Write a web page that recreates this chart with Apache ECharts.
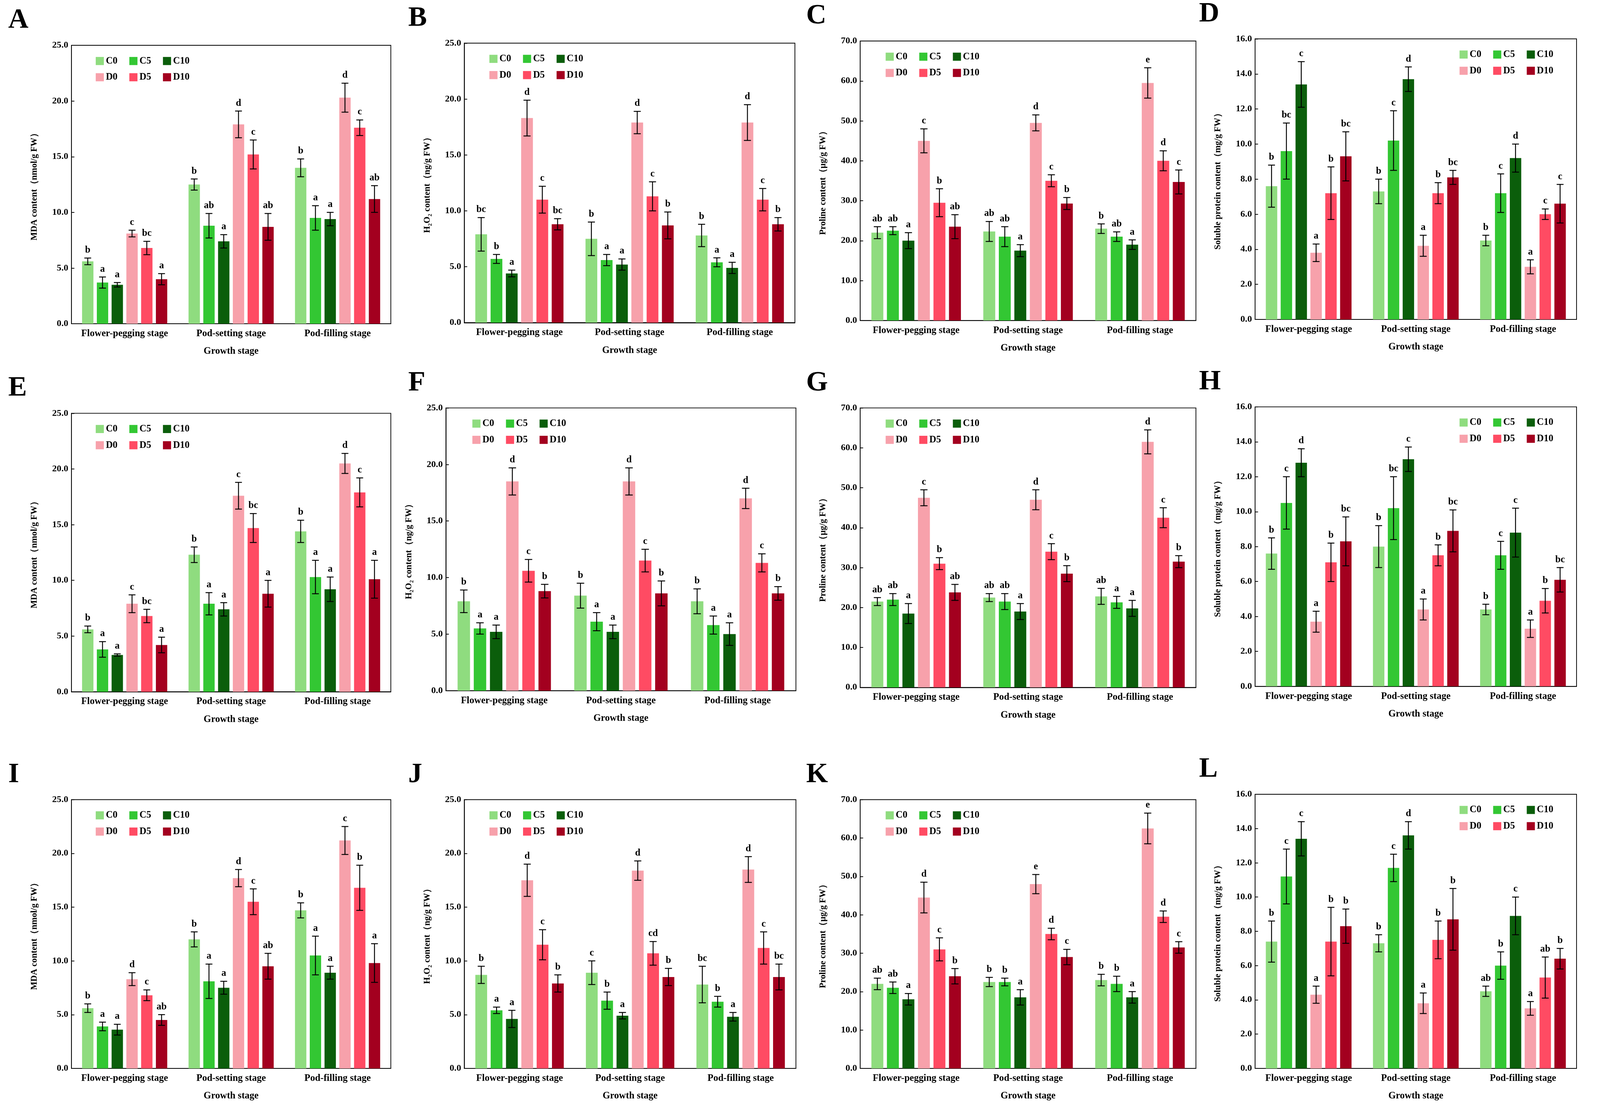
<!DOCTYPE html>
<html>
<head>
<meta charset="utf-8">
<script src="https://cdn.jsdelivr.net/npm/echarts@6/dist/echarts.min.js"></script>
<style>html,body{margin:0;padding:0;background:#fff;overflow:hidden}#c{width:100vw;height:100vh}</style>
</head>
<body>
<div id="c"></div>
<script>
var categories = ['Flower-pegging stage', 'Pod-setting stage', 'Pod-filling stage'];
var seriesNames = ['C0', 'C5', 'C10', 'D0', 'D5', 'D10'];
var colors = ['#8fdc7f', '#33c733', '#0b5e0b', '#f7a1ab', '#ff4b63', '#a3001f'];

// rows: C0, C5, C10, D0, D5, D10 ; columns: the three stages
var aMean = [[5.6,12.5,14.0],[3.7,8.8,9.5],[3.5,7.4,9.4],[8.1,17.9,20.3],[6.8,15.2,17.6],[4.0,8.7,11.2]];
var aErr  = [[0.3,0.5,0.8],[0.5,1.1,1.1],[0.2,0.6,0.6],[0.3,1.2,1.3],[0.6,1.3,0.7],[0.5,1.2,1.2]];
var aSig  = [['b','b','b'],['a','ab','a'],['a','a','a'],['c','d','d'],['bc','c','c'],['a','ab','ab']];

var bMean = [[7.9,7.5,7.8],[5.7,5.6,5.4],[4.4,5.2,4.9],[18.3,17.9,17.9],[11.0,11.3,11.0],[8.8,8.7,8.8]];
var bErr  = [[1.5,1.5,1.0],[0.4,0.5,0.4],[0.3,0.5,0.5],[1.6,1.0,1.6],[1.2,1.3,1.0],[0.5,1.2,0.6]];
var bSig  = [['bc','b','b'],['b','a','a'],['a','a','a'],['d','d','d'],['c','c','c'],['bc','b','b']];

var cMean = [[22,22.3,23],[22.5,21,21],[20,17.5,19],[45,49.5,59.5],[29.5,35,40],[23.5,29.3,34.7]];
var cErr  = [[1.5,2.5,1.2],[1,2.5,1.2],[2,1.5,1.2],[3,2,3.8],[3.5,1.5,2.5],[3,1.5,3]];
var cSig  = [['ab','ab','b'],['ab','ab','ab'],['a','a','a'],['c','d','e'],['b','c','d'],['ab','b','c']];

var dMean = [[7.6,7.3,4.5],[9.6,10.2,7.2],[13.4,13.7,9.2],[3.8,4.2,3.0],[7.2,7.2,6.0],[9.3,8.1,6.6]];
var dErr  = [[1.2,0.7,0.3],[1.6,1.7,1.1],[1.3,0.7,0.8],[0.5,0.6,0.4],[1.5,0.6,0.3],[1.4,0.4,1.1]];
var dSig  = [['b','b','b'],['bc','c','c'],['c','d','d'],['a','a','a'],['b','b','c'],['bc','bc','c']];

var eMean = [[5.6,12.3,14.4],[3.8,7.9,10.3],[3.3,7.4,9.2],[7.9,17.6,20.5],[6.8,14.7,17.9],[4.2,8.8,10.1]];
var eErr  = [[0.3,0.7,1.0],[0.7,1.0,1.5],[0.1,0.6,1.1],[0.8,1.2,0.9],[0.6,1.3,1.3],[0.7,1.2,1.7]];
var eSig  = [['b','b','b'],['a','a','a'],['a','a','a'],['c','c','d'],['bc','bc','c'],['a','a','a']];

var fMean = [[7.9,8.4,7.9],[5.5,6.1,5.8],[5.2,5.2,5.0],[18.5,18.5,17.0],[10.6,11.5,11.3],[8.8,8.6,8.6]];
var fErr  = [[1.0,1.1,1.1],[0.5,0.8,0.8],[0.6,0.6,1.0],[1.2,1.2,0.9],[1.0,1.0,0.8],[0.6,1.1,0.6]];
var fSig  = [['b','b','b'],['a','a','a'],['a','a','a'],['d','d','d'],['c','c','c'],['b','b','b']];

var gMean = [[21.5,22.5,22.8],[22,21.5,21.3],[18.5,19,19.8],[47.5,47,61.5],[31,34,42.5],[23.8,28.5,31.5]];
var gErr  = [[1,1,2],[1.5,2,1.5],[2.5,2,2],[2,2.5,3],[1.5,2,2.5],[2,2,1.5]];
var gSig  = [['ab','ab','ab'],['ab','ab','a'],['a','a','a'],['c','d','d'],['b','c','c'],['ab','b','b']];

var hMean = [[7.6,8.0,4.4],[10.5,10.2,7.5],[12.8,13.0,8.8],[3.7,4.4,3.3],[7.1,7.5,4.9],[8.3,8.9,6.1]];
var hErr  = [[0.9,1.2,0.3],[1.5,1.8,0.8],[0.8,0.7,1.4],[0.6,0.6,0.5],[1.1,0.6,0.7],[1.4,1.2,0.7]];
var hSig  = [['b','b','b'],['c','bc','c'],['d','c','c'],['a','a','a'],['b','b','b'],['bc','bc','bc']];

var iMean = [[5.6,12.0,14.7],[3.9,8.1,10.5],[3.6,7.5,8.9],[8.3,17.7,21.2],[6.8,15.5,16.8],[4.5,9.5,9.8]];
var iErr  = [[0.4,0.7,0.7],[0.4,1.6,1.8],[0.5,0.6,0.6],[0.6,0.8,1.3],[0.5,1.2,2.1],[0.5,1.2,1.8]];
var iSig  = [['b','b','b'],['a','a','a'],['a','a','a'],['d','d','c'],['c','c','b'],['ab','ab','a']];

var jMean = [[8.7,8.9,7.8],[5.4,6.3,6.2],[4.6,4.9,4.8],[17.5,18.4,18.5],[11.5,10.7,11.2],[7.9,8.5,8.5]];
var jErr  = [[0.8,1.1,1.7],[0.3,0.8,0.5],[0.8,0.3,0.4],[1.5,0.9,1.2],[1.4,1.1,1.5],[0.8,0.8,1.2]];
var jSig  = [['b','c','bc'],['a','b','b'],['a','a','a'],['d','d','d'],['c','cd','c'],['b','b','bc']];

var kMean = [[22,22.5,23],[21,22.5,22],[18,18.5,18.5],[44.5,48,62.5],[31,35,39.5],[24,29,31.5]];
var kErr  = [[1.5,1.2,1.5],[1.5,1,2],[1.5,2,1.5],[4,2.5,4],[3,1.5,1.5],[2,2,1.5]];
var kSig  = [['ab','b','b'],['ab','b','b'],['a','a','a'],['d','e','e'],['c','d','d'],['b','c','c']];

var lMean = [[7.4,7.3,4.5],[11.2,11.7,6.0],[13.4,13.6,8.9],[4.3,3.8,3.5],[7.4,7.5,5.3],[8.3,8.7,6.4]];
var lErr  = [[1.2,0.5,0.3],[1.6,0.8,0.8],[1.0,0.8,1.1],[0.5,0.6,0.4],[2.0,1.1,1.2],[1.0,1.8,0.6]];
var lSig  = [['b','b','ab'],['c','c','b'],['c','d','c'],['a','a','a'],['b','b','ab'],['b','b','b']];

var yNames = {
  mda: 'MDA content（nmol/g FW）',
  h2o2: 'H₂O₂ content（ng/g FW）',
  pro: 'Proline content（μg/g FW）',
  sp: 'Soluble protein content（mg/g FW）'
};
var yScale = { mda: [25, 5], h2o2: [25, 5], pro: [70, 10], sp: [16, 2] };

// layout in reference display units (1568 x 1036), scaled to the real window
var W = window.innerWidth, H = window.innerHeight;
var KX = W / 1568, KY = H / 1036;
var S = W / 4335; // font / stroke scale
var panels = [
  {tag:'A', kind:'mda',  m:aMean, e:aErr, s:aSig, box:[70,42,383,300],   leg:'L'},
  {tag:'B', kind:'h2o2', m:bMean, e:bErr, s:bSig, box:[455,40,779,299],  leg:'L'},
  {tag:'C', kind:'pro',  m:cMean, e:cErr, s:cSig, box:[843,38,1172,297], leg:'L'},
  {tag:'D', kind:'sp',   m:dMean, e:dErr, s:dSig, box:[1230,36,1545,296],leg:'R'},
  {tag:'E', kind:'mda',  m:eMean, e:eErr, s:eSig, box:[70,383,383,641],  leg:'L'},
  {tag:'F', kind:'h2o2', m:fMean, e:fErr, s:fSig, box:[437,378,780,640], leg:'L'},
  {tag:'G', kind:'pro',  m:gMean, e:gErr, s:gSig, box:[843,378,1172,637],leg:'L'},
  {tag:'H', kind:'sp',   m:hMean, e:hErr, s:hSig, box:[1230,377,1545,636],leg:'R'},
  {tag:'I', kind:'mda',  m:iMean, e:iErr, s:iSig, box:[70,741,383,990],  leg:'L'},
  {tag:'J', kind:'h2o2', m:jMean, e:jErr, s:jSig, box:[455,741,780,990], leg:'L'},
  {tag:'K', kind:'pro',  m:kMean, e:kErr, s:kSig, box:[843,741,1172,990],leg:'L'},
  {tag:'L', kind:'sp',   m:lMean, e:lErr, s:lSig, box:[1230,736,1545,990],leg:'R'}
];
var letterX = {A:8,B:400,C:790,D:1175,E:8,F:400,G:790,H:1175,I:8,J:400,K:790,L:1175};

var FONT = 'Liberation Serif';
var grids = [], xAxes = [], yAxes = [], series = [], legends = [], graphics = [];

panels.forEach(function (p, pi) {
  var b = p.box;
  var left = b[0] * KX, top = b[1] * KY, w = (b[2] - b[0]) * KX, h = (b[3] - b[1]) * KY;
  grids.push({left: left, top: top, width: w, height: h, show: true,
    borderColor: '#000', borderWidth: 2 * S, backgroundColor: 'transparent'});
  xAxes.push({type: 'category', gridIndex: pi, data: categories,
    name: 'Growth stage', nameLocation: 'middle', nameGap: 62 * S,
    nameTextStyle: {fontFamily: FONT, fontWeight: 'bold', fontSize: 26 * S, color: '#000'},
    axisTick: {show: false},
    axisLine: {lineStyle: {color: '#000', width: 2 * S}},
    axisLabel: {interval: 0, fontFamily: FONT, fontWeight: 'bold', fontSize: 26 * S, color: '#000', margin: 14 * S}});
  var ys = yScale[p.kind];
  yAxes.push({type: 'value', gridIndex: pi, min: 0, max: ys[0], interval: ys[1],
    name: yNames[p.kind], nameLocation: 'middle', nameRotate: 90, nameGap: 88 * S,
    nameTextStyle: {fontFamily: FONT, fontWeight: 'bold', fontSize: 24 * S, color: '#000'},
    splitLine: {show: false},
    axisLine: {show: true, lineStyle: {color: '#000', width: 2 * S}},
    axisTick: {show: true, inside: true, length: 8 * S, lineStyle: {color: '#000', width: 2 * S}},
    axisLabel: {fontFamily: FONT, fontWeight: 'bold', fontSize: 25 * S, color: '#000',
      formatter: function (v) { return v.toFixed(1); }}});

  var errData = [];
  seriesNames.forEach(function (name, si) {
    series.push({type: 'bar', name: name, xAxisIndex: pi, yAxisIndex: pi,
      data: p.m[si], barCategoryGap: '20%', barGap: '30%',
      itemStyle: {color: colors[si]}});
    for (var c = 0; c < 3; c++) errData.push([c, si, p.m[si][c], p.e[si][c], p.s[si][c]]);
  });
  series.push({type: 'custom', xAxisIndex: pi, yAxisIndex: pi, z: 10,
    encode: {x: 0, y: 2}, data: errData,
    renderItem: function (params, api) {
      var c = api.value(0), si = api.value(1), m = api.value(2), e = api.value(3);
      var letter = errData[params.dataIndex][4];
      var cw = api.size([1, 0])[0];
      var bw = 0.8 * cw / 7.5;
      var base = api.coord([c, 0]);
      var x = base[0] - 0.4 * cw + bw / 2 + si * 1.3 * bw;
      var yt = api.coord([c, m + e])[1], yb = api.coord([c, m - e])[1];
      var cap = bw * 0.3;
      var st = {stroke: '#000', lineWidth: 2.5 * S};
      return {type: 'group', children: [
        {type: 'line', shape: {x1: x, y1: yt, x2: x, y2: yb}, style: st},
        {type: 'line', shape: {x1: x - cap, y1: yt, x2: x + cap, y2: yt}, style: st},
        {type: 'line', shape: {x1: x - cap, y1: yb, x2: x + cap, y2: yb}, style: st},
        {type: 'text', x: x, y: yt - 8 * S, style: {text: letter, textAlign: 'center',
          textVerticalAlign: 'bottom', fontFamily: FONT, fontWeight: 'bold', fontSize: 26 * S, fill: '#000'}}
      ]};
    }});

  var lx = p.leg === 'L' ? left + w * 0.07 : left + w * 0.63;
  var ltStyle = {fontFamily: FONT, fontWeight: 'bold', fontSize: 26 * S, color: '#000'};
  legends.push({data: ['C0', 'C5', 'C10'], left: lx, top: top + 24 * S, icon: 'rect',
    itemWidth: 22 * S, itemHeight: 22 * S, itemGap: 32 * S, textStyle: ltStyle});
  legends.push({data: ['D0', 'D5', 'D10'], left: lx, top: top + 68 * S, icon: 'rect',
    itemWidth: 22 * S, itemHeight: 22 * S, itemGap: 32 * S, textStyle: ltStyle});

  graphics.push({type: 'text', left: letterX[p.tag] * KX, top: top - 36 * KY,
    style: {text: p.tag, fontFamily: FONT, fontWeight: 'bold', fontSize: 76 * S, fill: '#000'}});
});

var chart = echarts.init(document.getElementById('c'));
chart.setOption({
  animation: false,
  backgroundColor: '#fff',
  grid: grids, xAxis: xAxes, yAxis: yAxes,
  legend: legends, series: series, graphic: graphics
});
</script>
</body>
</html>
